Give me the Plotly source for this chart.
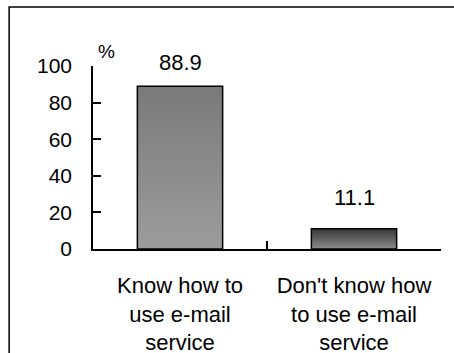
import base64
import plotly.graph_objects as go

# Survey result: share of respondents who can use e-mail
categories = ["Know how to<br>use e-mail<br>service", "Don't know how<br>to use e-mail<br>service"]
values = [88.9, 11.1]
value_labels = ["88.9", "11.1"]
y_ticks = [0, 20, 40, 60, 80, 100]

# vertical gradient fills (top colour, bottom colour) per bar
gradients = [("#7a7a7a", "#9c9c9c"), ("#363636", "#8c8c8c")]
label_lift = [9, 17]
bar_width = 0.49
FONT = "Arial, Liberation Sans, sans-serif"


def gradient_uri(top, bottom):
    svg = (
        '<svg xmlns="http://www.w3.org/2000/svg" width="10" height="100" preserveAspectRatio="none">'
        '<defs><linearGradient id="g" x1="0" y1="0" x2="0" y2="1">'
        f'<stop offset="0" stop-color="{top}"/><stop offset="1" stop-color="{bottom}"/>'
        '</linearGradient></defs><rect width="10" height="100" fill="url(#g)"/></svg>'
    )
    return "data:image/svg+xml;base64," + base64.b64encode(svg.encode()).decode()


fig = go.Figure()
fig.add_trace(go.Bar(
    x=categories,
    y=values,
    width=bar_width,
    marker=dict(color="rgba(0,0,0,0)", line=dict(color="black", width=1.5)),
    hoverinfo="skip",
))

images = []
for i, (v, (top, bottom)) in enumerate(zip(values, gradients)):
    images.append(dict(
        source=gradient_uri(top, bottom),
        xref="x", yref="y",
        x=i - bar_width / 2, y=v,
        sizex=bar_width, sizey=v,
        xanchor="left", yanchor="top",
        sizing="stretch", layer="below",
    ))

annotations = [
    dict(x=c, y=v, text=t, xref="x", yref="y", showarrow=False,
         yanchor="bottom", yshift=s, font=dict(family=FONT, size=22, color="black"))
    for c, v, t, s in zip(categories, values, value_labels, label_lift)
]
annotations.append(dict(
    x=0.04, y=1.0, xref="paper", yref="paper", text="%", showarrow=False,
    xanchor="center", yanchor="bottom", yshift=2,
    font=dict(family=FONT, size=19, color="black"),
))

fig.update_layout(
    width=454, height=353,
    margin=dict(l=93, r=13, t=66, b=104),
    paper_bgcolor="white", plot_bgcolor="white",
    showlegend=False,
    images=images,
    annotations=annotations,
    shapes=[dict(type="rect", xref="paper", yref="paper",
                 x0=-0.241, x1=1.2, y0=-1.0, y1=1.322,
                 line=dict(color="black", width=1.5), fillcolor="rgba(0,0,0,0)")],
    xaxis=dict(
        type="category",
        automargin=False,
        tickson="boundaries", ticks="inside", ticklen=8, tickwidth=1.5, tickcolor="black",
        showline=True, linecolor="black", linewidth=1.5,
        showgrid=False, zeroline=False,
        tickfont=dict(family=FONT, size=22, color="black"),
        ticklabelstandoff=16,
        fixedrange=True,
    ),
    yaxis=dict(
        range=[0, 100],
        automargin=False,
        tickmode="array", tickvals=y_ticks,
        ticks="inside", ticklen=8, tickwidth=1.5, tickcolor="black",
        showline=True, linecolor="black", linewidth=1.5,
        showgrid=False, zeroline=False,
        tickfont=dict(family=FONT, size=21, color="black"),
        ticklabelstandoff=15,
        fixedrange=True,
    ),
)

fig.write_html("out.html", config={"displayModeBar": False})
